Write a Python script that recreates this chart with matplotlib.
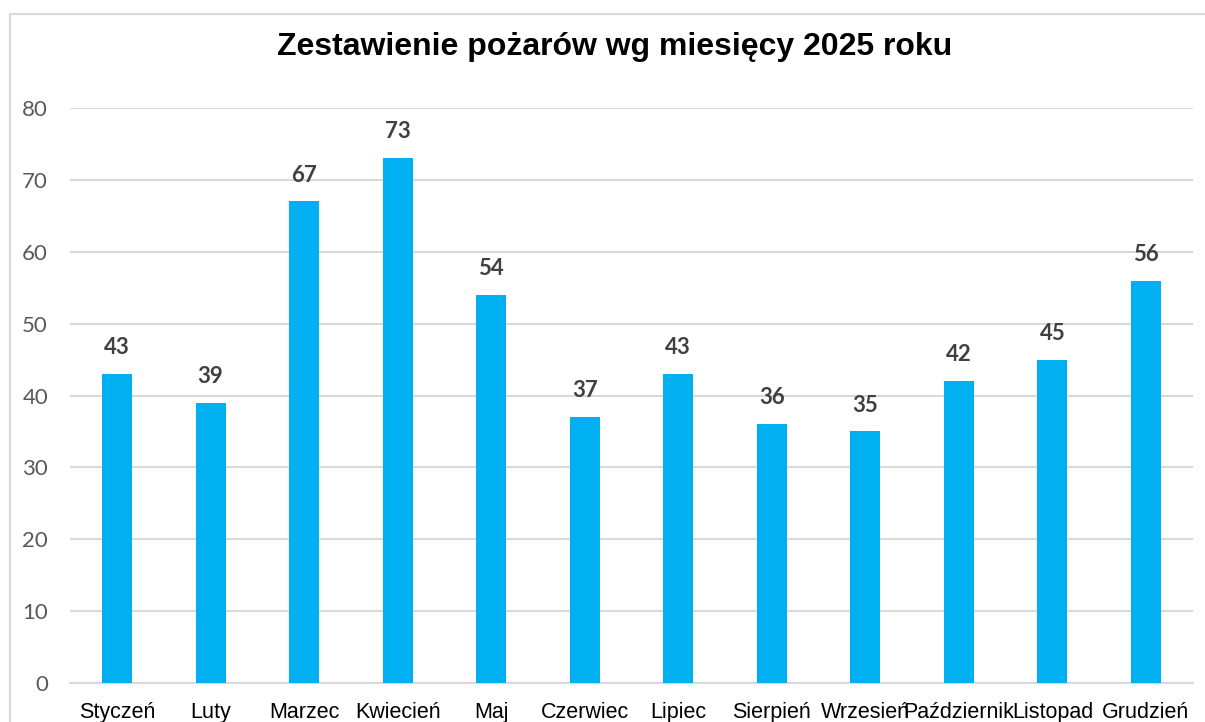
import matplotlib
matplotlib.use('Agg')
import matplotlib.pyplot as plt
from matplotlib.patches import Rectangle

# Dane
miesiace = ['Styczeń', 'Luty', 'Marzec', 'Kwiecień', 'Maj', 'Czerwiec', 'Lipiec',
            'Sierpień', 'Wrzesień', 'Październik', 'Listopad', 'Grudzień']
pozary = [43, 39, 67, 73, 54, 37, 43, 36, 35, 42, 45, 56]
y_ticks = [0, 10, 20, 30, 40, 50, 60, 70, 80]

fig = plt.figure(figsize=(12.05, 7.22), dpi=100)
fig.patch.set_facecolor('white')

# ramka wykresu (przycieta)
fig.patches.append(Rectangle((10 / 1205, -0.5), 2, 0.5 + (722 - 14) / 722,
                             transform=fig.transFigure, fill=False,
                             edgecolor='#D9D9D9', linewidth=1.5, zorder=0))

ax = fig.add_axes([70.25 / 1205, 39 / 722, 1122.5 / 1205, 575 / 722])
x = range(len(miesiace))
ax.bar(x, pozary, width=0.32, color='#00B0F0', zorder=3)

for xi, v in zip(x, pozary):
    ax.annotate(str(v), (xi, v), xytext=(0, 19), textcoords='offset points',
                ha='center', va='center', fontsize=16, fontweight='bold',
                color='#404040', family='Lato')

ax.set_xlim(-0.5, len(miesiace) - 0.5)
ax.set_ylim(0, 80)
ax.set_yticks(y_ticks)
ax.set_yticklabels([str(t) for t in y_ticks], fontsize=16, color='#595959', family='Lato')
ax.set_xticks(list(x))
ax.set_xticklabels(miesiace, fontsize=15.5, color='#000000', family='Liberation Sans')
ax.tick_params(axis='y', length=0, pad=16)
ax.tick_params(axis='x', length=0, pad=14)
ax.grid(axis='y', color='#D9D9D9', linewidth=1.5, zorder=0)
for s in ['top', 'right', 'left']:
    ax.spines[s].set_visible(False)
ax.spines['bottom'].set_color('#D9D9D9')
ax.spines['bottom'].set_linewidth(1.5)

fig.text(615 / 1205, 1 - 47 / 722, 'Zestawienie pożarów wg miesięcy 2025 roku',
         ha='center', va='center', fontsize=23, fontweight='bold',
         family='Liberation Sans', color='black')

fig.savefig('out.png', dpi=100)
